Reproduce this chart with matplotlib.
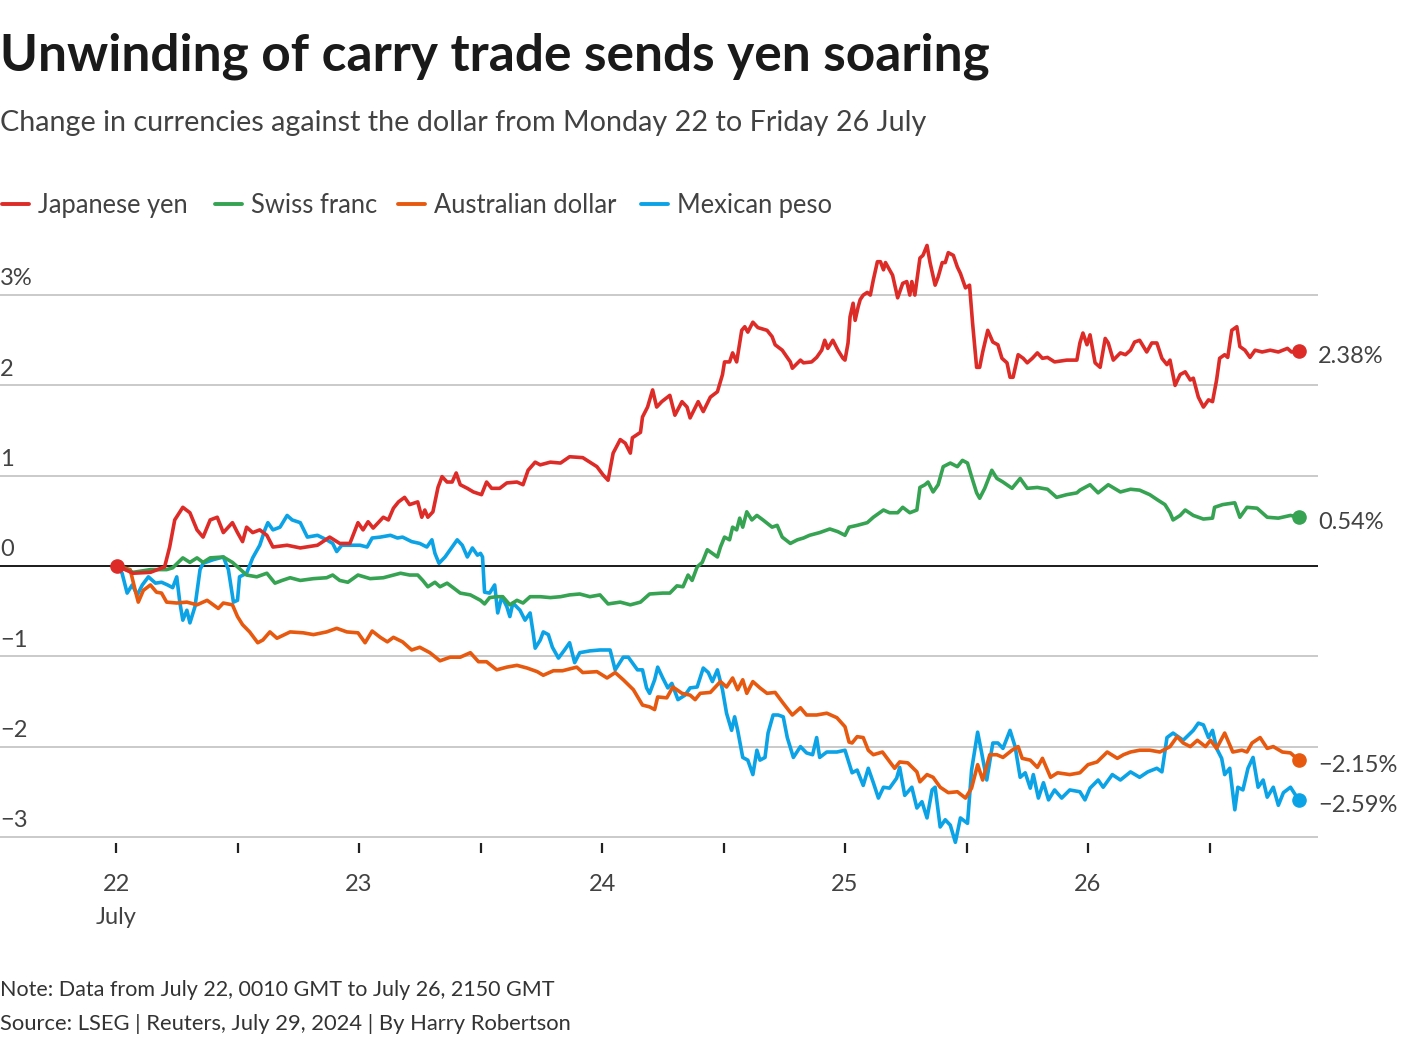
import matplotlib
matplotlib.use("Agg")
import matplotlib.pyplot as plt
from matplotlib.lines import Line2D

# ---------------- data (hours since July 22 00:00 GMT, % change vs USD) ----------------
yen_h = [0.1, 1.7, 3.4, 4.8, 5.3, 5.8, 6.6, 7.3, 8.0, 8.6, 9.3, 10.0, 10.6, 11.5, 12.0, 12.5, 12.9, 13.5,
         14.2, 14.9, 15.5, 16.9, 18.2, 19.9, 21.1, 22.1, 23.1, 23.9, 24.4, 24.9, 25.4, 26.4, 26.9, 27.4,
         27.9, 28.5, 29.0, 29.8, 30.2, 30.5, 30.8, 31.3, 31.8, 32.2, 32.7, 33.2, 33.6, 34.0, 34.7, 35.3,
         36.1, 36.6, 37.1, 37.9, 38.6, 39.6, 40.2, 40.7, 41.4, 41.9, 42.9, 43.9, 44.8, 46.1, 46.8, 47.5,
         48.1, 48.6, 49.1, 49.8, 50.3, 50.8, 51.0, 51.8, 52.0, 52.5, 53.0, 53.4, 53.9, 54.7, 55.2, 55.9,
         56.4, 56.7, 57.5, 58.0, 58.7, 59.4, 59.9, 60.1, 60.6, 60.9, 61.3, 61.8, 62.1, 62.4, 62.9, 63.4,
         64.3, 64.8, 65.1, 65.8, 66.6, 66.8, 67.6, 67.9, 68.7, 69.2, 69.7, 70.0, 70.3, 70.8, 71.3, 71.8,
         72.0, 72.3, 72.5, 72.8, 73.0, 73.3, 73.5, 73.8, 74.2, 74.5, 74.8, 75.2, 75.5, 75.8, 76.0, 76.4,
         76.7, 77.2, 77.7, 78.1, 78.4, 78.6, 78.9, 79.4, 79.7, 80.1, 80.4, 80.9, 81.2, 81.6, 81.9, 82.2,
         82.7, 83.1, 83.4, 83.9, 84.3, 84.6, 85.0, 85.3, 85.6, 86.1, 86.6, 87.1, 87.5, 88.0, 88.3, 88.6,
         89.1, 89.6, 90.0, 90.5, 91.0, 91.5, 92.0, 92.7, 93.9, 94.9, 95.2, 95.5, 95.9, 96.2, 96.7, 97.2,
         97.7, 98.0, 98.5, 99.2, 99.7, 100.2, 100.6, 101.1, 101.8, 102.3, 102.8, 103.3, 103.8, 104.1,
         104.6, 105.1, 105.6, 106.1, 106.4, 106.9, 107.4, 107.9, 108.3, 108.7, 109.0, 109.5, 109.8,
         110.2, 110.7, 111.0, 111.5, 112.0, 112.5, 113.2, 114.0, 114.8, 115.7, 116.1, 116.8]
yen_v = [0.00, -0.08, -0.07, -0.01, 0.21, 0.51, 0.65, 0.59, 0.40, 0.32, 0.51, 0.54, 0.37, 0.48, 0.37, 0.27,
         0.43, 0.37, 0.40, 0.34, 0.21, 0.23, 0.20, 0.23, 0.32, 0.25, 0.25, 0.48, 0.40, 0.49, 0.42, 0.54,
         0.51, 0.64, 0.71, 0.76, 0.68, 0.71, 0.54, 0.62, 0.54, 0.60, 0.87, 0.99, 0.93, 0.93, 1.03, 0.90,
         0.86, 0.82, 0.79, 0.93, 0.86, 0.86, 0.92, 0.93, 0.90, 1.06, 1.15, 1.12, 1.15, 1.14, 1.21, 1.20,
         1.15, 1.10, 1.01, 0.95, 1.25, 1.40, 1.36, 1.25, 1.42, 1.48, 1.65, 1.76, 1.95, 1.76, 1.82, 1.89,
         1.67, 1.82, 1.76, 1.64, 1.82, 1.71, 1.87, 1.93, 2.12, 2.26, 2.26, 2.36, 2.26, 2.61, 2.65, 2.59,
         2.70, 2.64, 2.61, 2.54, 2.45, 2.39, 2.26, 2.19, 2.28, 2.25, 2.26, 2.31, 2.39, 2.50, 2.41, 2.50,
         2.39, 2.30, 2.28, 2.47, 2.76, 2.91, 2.72, 2.87, 2.95, 3.00, 3.03, 3.00, 3.17, 3.37, 3.37, 3.28,
         3.36, 3.28, 3.22, 2.97, 3.13, 3.15, 3.00, 3.15, 3.00, 3.41, 3.44, 3.55, 3.36, 3.11, 3.20, 3.36,
         3.36, 3.47, 3.44, 3.31, 3.24, 3.08, 3.11, 2.69, 2.20, 2.20, 2.37, 2.61, 2.48, 2.45, 2.30, 2.25,
         2.09, 2.09, 2.34, 2.30, 2.25, 2.30, 2.36, 2.30, 2.31, 2.26, 2.28, 2.28, 2.47, 2.58, 2.45, 2.56,
         2.25, 2.20, 2.52, 2.47, 2.28, 2.36, 2.34, 2.39, 2.48, 2.50, 2.37, 2.47, 2.47, 2.30, 2.23, 2.28,
         2.00, 2.12, 2.15, 2.06, 2.08, 1.87, 1.76, 1.84, 1.82, 2.06, 2.30, 2.34, 2.31, 2.61, 2.65, 2.43,
         2.39, 2.31, 2.39, 2.37, 2.39, 2.37, 2.41, 2.37, 2.38]

chf_h = [0.1, 1.7, 3.4, 5.0, 5.6, 6.6, 7.3, 8.0, 8.6, 9.3, 10.6, 11.5, 12.0, 12.9, 13.9, 14.9, 15.7, 16.4,
         17.2, 18.2, 19.5, 20.8, 21.4, 22.1, 22.9, 23.9, 25.1, 26.4, 28.1, 29.0, 29.8, 30.3, 30.8, 31.5,
         32.0, 32.7, 33.3, 34.0, 35.0, 36.0, 36.4, 36.9, 37.6, 38.2, 38.9, 39.6, 40.2, 40.9, 41.9, 42.9,
         43.9, 44.8, 45.8, 46.8, 47.8, 48.6, 49.8, 50.8, 51.8, 52.7, 54.0, 54.7, 55.4, 56.0, 56.5, 56.9,
         57.4, 57.9, 58.4, 58.9, 59.4, 59.7, 60.1, 60.6, 60.9, 61.3, 61.6, 61.9, 62.3, 62.8, 63.3, 63.9,
         64.8, 65.3, 65.8, 66.6, 67.3, 67.9, 68.5, 69.5, 70.5, 71.3, 72.0, 72.4, 73.2, 74.2, 74.8, 75.8,
         76.4, 77.2, 77.7, 78.4, 79.1, 79.4, 79.9, 80.2, 80.7, 81.2, 81.7, 82.4, 83.1, 83.6, 84.1, 84.5,
         85.0, 85.3, 85.8, 86.5, 87.0, 87.6, 88.5, 89.3, 90.0, 91.0, 92.0, 92.9, 93.9, 94.9, 95.2, 96.2,
         97.0, 98.0, 99.2, 100.2, 101.1, 102.1, 102.9, 103.6, 104.1, 104.4, 105.1, 105.6, 106.4, 107.4,
         108.3, 108.5, 109.3, 110.5, 111.0, 111.7, 112.7, 113.7, 114.8, 116.0, 116.8]
chf_v = [0.00, -0.07, -0.04, -0.04, -0.02, 0.09, 0.04, 0.09, 0.04, 0.09, 0.10, 0.04, -0.01, -0.10, -0.12,
         -0.08, -0.19, -0.16, -0.13, -0.16, -0.14, -0.13, -0.10, -0.16, -0.18, -0.10, -0.14, -0.13, -0.08,
         -0.10, -0.10, -0.16, -0.23, -0.18, -0.23, -0.19, -0.24, -0.30, -0.32, -0.38, -0.42, -0.35, -0.34,
         -0.34, -0.43, -0.38, -0.41, -0.34, -0.34, -0.35, -0.34, -0.32, -0.31, -0.34, -0.32, -0.42, -0.40,
         -0.43, -0.40, -0.31, -0.30, -0.30, -0.22, -0.23, -0.10, -0.16, -0.01, 0.04, 0.18, 0.14, 0.10, 0.21,
         0.32, 0.29, 0.43, 0.40, 0.53, 0.43, 0.60, 0.51, 0.56, 0.51, 0.43, 0.45, 0.32, 0.25, 0.29, 0.31,
         0.34, 0.37, 0.41, 0.38, 0.34, 0.43, 0.45, 0.48, 0.54, 0.62, 0.59, 0.59, 0.65, 0.59, 0.62, 0.87,
         0.90, 0.93, 0.82, 0.90, 1.10, 1.14, 1.10, 1.17, 1.14, 0.99, 0.81, 0.75, 0.86, 1.06, 0.97, 0.93,
         0.86, 0.97, 0.86, 0.87, 0.85, 0.76, 0.79, 0.81, 0.84, 0.90, 0.81, 0.90, 0.82, 0.85, 0.84, 0.79,
         0.73, 0.68, 0.59, 0.51, 0.56, 0.62, 0.56, 0.52, 0.53, 0.65, 0.68, 0.70, 0.54, 0.65, 0.64, 0.54,
         0.53, 0.56, 0.54]

aud_h = [0.1, 1.4, 1.9, 2.2, 2.7, 3.4, 4.0, 4.5, 5.0, 6.0, 7.0, 8.0, 9.0, 10.1, 10.6, 11.5, 12.0, 12.5,
         13.2, 14.0, 14.5, 15.2, 15.9, 17.2, 18.5, 19.5, 20.8, 21.8, 22.8, 23.9, 24.6, 25.3, 26.1, 26.8,
         27.4, 28.3, 29.2, 30.0, 31.0, 32.0, 33.0, 34.0, 35.0, 35.8, 36.6, 37.6, 38.6, 39.6, 40.6, 41.6,
         42.2, 43.2, 44.1, 45.5, 46.1, 47.5, 48.5, 49.3, 50.1, 51.1, 52.0, 52.7, 53.2, 53.5, 54.4, 55.0,
         55.9, 56.7, 57.2, 57.7, 58.7, 59.7, 60.3, 60.9, 61.4, 61.9, 62.3, 62.9, 63.6, 64.3, 65.1, 65.9,
         66.8, 67.6, 68.2, 69.2, 70.2, 71.2, 72.0, 72.4, 72.7, 73.2, 73.8, 74.3, 74.8, 75.7, 76.3, 76.9,
         77.4, 78.2, 79.1, 79.4, 80.1, 80.7, 81.4, 82.2, 83.1, 83.9, 84.5, 85.1, 85.6, 86.3, 87.0, 87.6,
         88.5, 89.1, 89.5, 90.3, 91.0, 91.5, 92.3, 93.0, 94.2, 95.2, 96.0, 96.9, 97.9, 98.9, 99.5, 100.2,
         101.1, 102.1, 103.1, 104.1, 104.8, 105.4, 106.1, 106.8, 107.6, 108.1, 108.7, 109.5, 110.3, 111.2,
         111.7, 112.2, 113.0, 113.7, 114.3, 115.2, 116.0, 116.8]
aud_v = [0.00, -0.04, -0.27, -0.40, -0.27, -0.21, -0.29, -0.30, -0.40, -0.41, -0.40, -0.43, -0.38, -0.47,
         -0.41, -0.43, -0.56, -0.65, -0.73, -0.85, -0.82, -0.73, -0.80, -0.73, -0.74, -0.76, -0.73, -0.69,
         -0.73, -0.74, -0.85, -0.72, -0.79, -0.84, -0.79, -0.84, -0.93, -0.90, -0.96, -1.05, -1.01, -1.01,
         -0.96, -1.06, -1.06, -1.15, -1.12, -1.10, -1.13, -1.17, -1.21, -1.16, -1.16, -1.12, -1.18, -1.17,
         -1.24, -1.18, -1.26, -1.37, -1.54, -1.56, -1.59, -1.45, -1.46, -1.34, -1.41, -1.43, -1.48, -1.41,
         -1.40, -1.28, -1.34, -1.24, -1.37, -1.26, -1.41, -1.28, -1.35, -1.41, -1.40, -1.52, -1.65, -1.57,
         -1.65, -1.65, -1.63, -1.68, -1.78, -1.95, -1.96, -1.89, -1.90, -2.04, -2.09, -2.06, -2.15, -2.24,
         -2.17, -2.18, -2.28, -2.39, -2.31, -2.34, -2.45, -2.51, -2.50, -2.57, -2.46, -2.20, -2.37, -2.09,
         -2.09, -2.12, -2.04, -2.00, -2.13, -2.15, -2.23, -2.13, -2.34, -2.29, -2.31, -2.29, -2.20, -2.17,
         -2.06, -2.13, -2.09, -2.06, -2.04, -2.04, -2.06, -2.00, -1.89, -1.96, -2.00, -1.93, -2.00, -1.93,
         -2.02, -1.85, -2.06, -2.04, -2.06, -1.96, -1.90, -2.02, -2.00, -2.06, -2.07, -2.15]

mxn_h = [0.1, 0.6, 1.1, 1.6, 2.1, 2.6, 3.2, 3.9, 4.5, 5.1, 5.6, 6.0, 6.3, 6.6, 7.0, 7.3, 7.8, 8.3, 8.6,
         9.6, 10.6, 11.1, 11.6, 12.0, 12.2, 12.9, 13.5, 14.2, 14.7, 15.0, 15.5, 16.2, 16.9, 17.4, 18.2,
         18.9, 19.9, 20.8, 21.4, 21.8, 22.3, 23.4, 24.1, 24.8, 25.3, 26.1, 27.1, 27.8, 28.3, 29.2, 30.0,
         30.7, 31.2, 31.5, 31.9, 32.5, 33.0, 33.7, 34.2, 34.7, 35.2, 35.7, 36.0, 36.2, 36.4, 36.9, 37.4,
         37.7, 38.1, 38.6, 38.9, 39.2, 39.9, 40.4, 40.9, 41.2, 41.4, 41.9, 42.2, 42.7, 43.1, 43.7, 44.3,
         44.8, 45.3, 45.8, 46.8, 47.8, 48.8, 49.3, 50.1, 50.6, 51.5, 52.0, 52.4, 52.7, 53.2, 53.5, 54.0,
         54.5, 54.9, 55.5, 56.2, 56.7, 57.4, 58.0, 58.5, 58.9, 59.4, 59.9, 60.3, 60.8, 61.1, 61.4, 61.9,
         62.4, 62.9, 63.3, 63.6, 64.1, 64.4, 64.9, 65.4, 65.9, 66.3, 66.9, 67.6, 68.2, 68.8, 69.2, 69.5,
         70.2, 71.2, 72.0, 72.7, 73.2, 73.8, 74.3, 74.8, 75.3, 75.8, 76.4, 77.1, 77.4, 77.9, 78.6, 79.1,
         79.6, 80.1, 80.6, 80.9, 81.4, 81.9, 82.4, 82.9, 83.4, 84.1, 84.5, 85.1, 85.5, 86.0, 86.6, 87.1,
         87.6, 88.3, 88.8, 89.3, 89.8, 90.3, 90.6, 91.1, 91.6, 92.1, 92.7, 93.4, 94.2, 95.2, 95.7, 96.2,
         97.0, 97.5, 98.4, 99.2, 100.2, 101.1, 101.9, 102.8, 103.3, 103.8, 104.4, 105.4, 106.4, 106.9,
         107.4, 107.9, 108.3, 108.7, 109.2, 109.5, 110.0, 110.5, 110.8, 111.3, 111.8, 112.3, 112.8, 113.3,
         113.7, 114.3, 114.8, 115.3, 116.0, 116.8]
mxn_v = [0.00, -0.08, -0.30, -0.21, -0.32, -0.21, -0.12, -0.19, -0.18, -0.21, -0.24, -0.12, -0.40, -0.60,
         -0.49, -0.63, -0.45, -0.04, 0.03, 0.07, 0.10, -0.04, -0.40, -0.38, -0.12, -0.08, 0.09, 0.23, 0.40,
         0.48, 0.40, 0.43, 0.56, 0.51, 0.48, 0.32, 0.34, 0.29, 0.25, 0.16, 0.23, 0.23, 0.23, 0.21, 0.31,
         0.32, 0.34, 0.31, 0.32, 0.27, 0.25, 0.21, 0.29, 0.14, 0.03, 0.10, 0.18, 0.29, 0.23, 0.10, 0.20,
         0.12, 0.14, 0.10, -0.29, -0.30, -0.21, -0.52, -0.34, -0.45, -0.56, -0.41, -0.49, -0.60, -0.52,
         -0.74, -0.91, -0.82, -0.73, -0.76, -0.90, -1.02, -0.93, -0.85, -1.07, -0.96, -0.94, -0.93, -0.93,
         -1.15, -1.01, -1.01, -1.15, -1.15, -1.35, -1.41, -1.26, -1.12, -1.24, -1.35, -1.30, -1.48, -1.43,
         -1.35, -1.34, -1.13, -1.18, -1.28, -1.15, -1.37, -1.63, -1.82, -1.67, -1.82, -2.12, -2.15, -2.31,
         -2.04, -2.15, -2.12, -1.85, -1.65, -1.65, -1.67, -1.90, -2.12, -2.00, -2.07, -2.09, -1.90, -2.12,
         -2.06, -2.06, -2.04, -2.29, -2.26, -2.43, -2.24, -2.40, -2.57, -2.45, -2.46, -2.35, -2.23, -2.54,
         -2.45, -2.68, -2.61, -2.79, -2.48, -2.45, -2.89, -2.81, -2.87, -3.06, -2.79, -2.85, -2.26, -1.84,
         -2.07, -2.37, -1.96, -1.96, -2.02, -1.82, -2.00, -2.34, -2.29, -2.46, -2.31, -2.57, -2.40, -2.59,
         -2.48, -2.57, -2.48, -2.50, -2.59, -2.46, -2.37, -2.45, -2.31, -2.37, -2.28, -2.34, -2.28, -2.24,
         -2.28, -1.90, -1.85, -1.93, -1.82, -1.74, -1.76, -1.90, -1.82, -2.02, -2.13, -2.31, -2.24, -2.70,
         -2.45, -2.48, -2.24, -2.12, -2.45, -2.37, -2.56, -2.45, -2.65, -2.51, -2.45, -2.59]

series_names = ["Japanese yen", "Swiss franc", "Australian dollar", "Mexican peso"]
series_colors = ["#dd2b27", "#35a352", "#e6590f", "#0ba3e6"]
end_labels = ["2.38%", "0.54%", "\u22122.15%", "\u22122.59%"]
y_ticks = [-3, -2, -1, 0, 1, 2, 3]
y_tick_labels = ["\u22123", "\u22122", "\u22121", "0", "1", "2", "3%"]
day_hours = [0, 24, 48, 72, 96]
day_labels = ["22\nJuly", "23", "24", "25", "26"]
half_day_hours = [12, 36, 60, 84, 108]

# ---------------- figure ----------------
W, H = 1420, 1044
fig = plt.figure(figsize=(W / 100, H / 100), dpi=100)
FONT = "Lato"
TXT = "#424242"

def fx(px):
    return px / W

def fy(py):
    return 1 - py / H

ax_left, ax_right, ax_top, ax_bot = 0, 1318, 240, 843
ax = fig.add_axes([fx(ax_left), fy(ax_bot), fx(ax_right - ax_left), (ax_bot - ax_top) / H])
px_per_hour = 243 / 24.0
ax.set_xlim(-116 / px_per_hour, (ax_right - 116) / px_per_hour)
px_per_unit = 90.3
ax.set_ylim((566 - ax_bot) / px_per_unit, (566 - ax_top) / px_per_unit)
for s in ax.spines.values():
    s.set_visible(False)

for k, yv in enumerate(y_ticks):
    if yv == 0:
        ax.axhline(yv, color="#1a1a1a", lw=1.4, zorder=2)
    else:
        ax.axhline(yv, color="#c6c6c6", lw=1.3, zorder=1)
    ax.annotate(y_tick_labels[k], xy=(0, yv), xycoords=("axes fraction", "data"),
                xytext=(0, 7), textcoords="offset points", ha="left", va="baseline",
                fontsize=17, color=TXT, family=FONT)

ax.set_yticks([])
ax.set_xticks(day_hours)
ax.set_xticklabels(day_labels, family=FONT, fontsize=17, color=TXT,
                   linespacing=1.7, va="top")
ax.set_xticks(half_day_hours, minor=True)
ax.tick_params(axis="x", which="both", length=7.5, width=1.6, color="#222222", pad=15)

data = [(yen_h, yen_v), (chf_h, chf_v), (aud_h, aud_v), (mxn_h, mxn_v)]
order = [3, 2, 1, 0]
for i in order:
    h, v = data[i]
    ax.plot(h, v, color=series_colors[i], lw=2.6, solid_joinstyle="round", zorder=3 + (3 - i),
            clip_on=False)
    ax.plot(h[-1], v[-1], "o", ms=9.5, color=series_colors[i], zorder=8, clip_on=False)
    ax.annotate(end_labels[i], xy=(1, v[-1]), xycoords=("axes fraction", "data"),
                xytext=(0, -4), textcoords="offset points", ha="left", va="center",
                fontsize=17, color=TXT, family=FONT, annotation_clip=False)
ax.plot(yen_h[0], yen_v[0], "o", ms=9.5, color=series_colors[0], zorder=9, clip_on=False)

# ---------------- titles ----------------
fig.text(fx(0), fy(70), "Unwinding of carry trade sends yen soaring", family=FONT,
         fontweight="bold", fontsize=37, color="#1a1a1a", ha="left", va="baseline")
fig.text(fx(0), fy(131), "Change in currencies against the dollar from Monday 22 to Friday 26 July",
         family=FONT, fontsize=20.7, color=TXT, ha="left", va="baseline")

# ---------------- legend ----------------
leg_line_x = [0, 213, 396, 639]
leg_text_x = [38, 251, 434, 677]
for i in range(4):
    fig.add_artist(Line2D([fx(leg_line_x[i] + 2), fx(leg_line_x[i] + 29)], [fy(204), fy(204)],
                          color=series_colors[i], lw=2.8, solid_capstyle="round"))
    fig.text(fx(leg_text_x[i]), fy(213), series_names[i], family=FONT,
             fontsize=18.4, color=TXT, ha="left", va="baseline")

# ---------------- footer ----------------
fig.text(fx(0), fy(996), "Note: Data from July 22, 0010 GMT to July 26, 2150 GMT", family=FONT,
         fontsize=15.5, color="#333333", ha="left", va="baseline")
fig.text(fx(0), fy(1030), "Source: LSEG | Reuters, July 29, 2024 | By Harry Robertson", family=FONT,
         fontsize=15.8, color="#333333", ha="left", va="baseline")

fig.savefig("out.png", dpi=100, facecolor="white")
